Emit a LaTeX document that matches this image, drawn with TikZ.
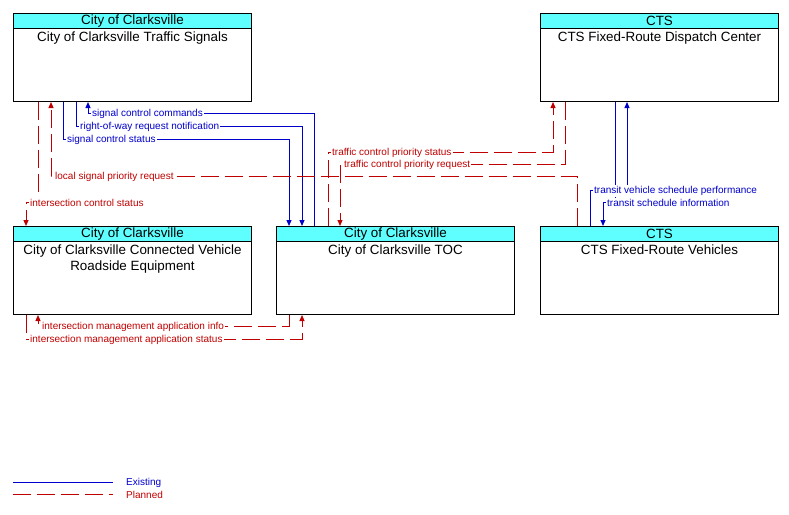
\documentclass[tikz,border=0pt]{standalone}
\usepackage{fontspec}
\setmainfont{Liberation Sans}
\usetikzlibrary{arrows.meta,calc}
\definecolor{exblue}{RGB}{0,0,204}
\definecolor{plred}{RGB}{192,0,0}
\definecolor{hdrcyan}{RGB}{96,255,255}
\tikzset{
  box/.style={draw=black, line width=1pt, fill=white, minimum width=238pt, minimum height=88pt, anchor=north west, inner sep=0pt},
  hdr/.style={draw=black, line width=1pt, fill=hdrcyan, minimum width=238pt, minimum height=15pt, anchor=north west, inner sep=0pt, font=\fontsize{13.4}{15}\selectfont},
  body/.style={anchor=north, inner sep=0pt, align=center, font=\fontsize{13.4}{15.5}\selectfont, yshift=-2.8pt},
  exist/.style={draw=exblue, line width=1pt, -{Triangle[width=5pt,length=6pt]}},
  plan/.style={draw=plred, line width=1pt, dash pattern=on 18pt off 6pt, -{Triangle[width=5pt,length=6pt]}},
  lblb/.style={anchor=west, fill=white, inner sep=1pt, text=exblue, font=\fontsize{10}{12}\selectfont, yshift=-1pt},
  lblr/.style={anchor=west, fill=white, inner sep=1pt, text=plred, font=\fontsize{10}{12}\selectfont, yshift=-1pt},
}
\begin{document}
\begin{tikzpicture}[x=1pt,y=-1pt]
\useasboundingbox (0,0) rectangle (789,514);
% boxes
\node[box] (ts) at (13,13) {};
\node[hdr] (tsh) at (13,13) {City of Clarksville};
\node[body] (tsb) at (tsh.south) {City of Clarksville Traffic Signals};

\node[box] (dc) at (540,13) {};
\node[hdr] (dch) at (540,13) {CTS};
\node[body] (dcb) at (dch.south) {CTS Fixed-Route Dispatch Center};

\node[box] (rse) at (13,226) {};
\node[hdr] (rseh) at (13,226) {City of Clarksville};
\node[body] (rseb) at (rseh.south) {City of Clarksville Connected Vehicle\\Roadside Equipment};

\node[box] (toc) at (276,226) {};
\node[hdr] (toch) at (276,226) {City of Clarksville};
\node[body] (tocb) at (toch.south) {City of Clarksville TOC};

\node[box] (veh) at (540,226) {};
\node[hdr] (vehh) at (540,226) {CTS};
\node[body] (vehb) at (vehh.south) {CTS Fixed-Route Vehicles};

% connectors
\draw[exist] ($(toc.north west)+(38,0)$) |- (88,113) -- ($(ts.south west)+(75,0)$);
\draw[exist] ($(ts.south west)+(63,0)$) |- (302,126) -- ($(toc.north west)+(26,0)$);
\draw[exist] ($(ts.south west)+(50,0)$) |- (289,139) -- ($(toc.north west)+(13,0)$);
\draw[plan] ($(veh.north west)+(37,0)$) |- (51,176) -- ($(ts.south west)+(38,0)$);
\draw[plan] ($(ts.south west)+(25,0)$) |- (26,202) -- ($(rse.north west)+(13,0)$);
\draw[plan] ($(toc.north west)+(52,0)$) |- (553,152) -- ($(dc.south west)+(13,0)$);
\draw[plan] ($(dc.south west)+(25,0)$) |- (340,164) -- ($(toc.north west)+(64,0)$);
\draw[exist] ($(veh.north west)+(50,0)$) |- (627,190) -- ($(dc.south west)+(87,0)$);
\draw[exist] ($(dc.south west)+(75,0)$) |- (603,202) -- ($(veh.north west)+(63,0)$);
\draw[plan] ($(toc.south west)+(13,0)$) |- (38,326) -- ($(rse.south west)+(25,0)$);
\draw[plan] ($(rse.south west)+(13,0)$) |- (302,339) -- ($(toc.south west)+(26,0)$);

% labels
\node[lblb] (l1) at (91,113) {signal control commands};
\node[lblb] (l2) at (79,126) {right-of-way request notification};
\node[lblb] (l3) at (66,139) {signal control status};
\node[lblr] (l4) at (54,176) {local signal priority request};
\node[lblr] (l5) at (29,202) {intersection control status};
\node[lblr] (l6) at (331,152) {traffic control priority status};
\node[lblr] (l7) at (343,164) {traffic control priority request};
\node[lblb] (l8) at (593,190) {transit vehicle schedule performance};
\node[lblb] (l9) at (606,202) {transit schedule information};
\node[lblr] (l10) at (41,326) {intersection management application info};
\node[lblr] (l11) at (29,339) {intersection management application status};

% legend
\coordinate (lg1a) at (13,482);
\coordinate (lg1b) at (113,482);
\coordinate (lg2a) at (13,494);
\coordinate (lg2b) at (113,494);
\draw[draw=exblue, line width=1pt] (lg1a) -- (lg1b);
\draw[draw=plred, line width=1pt, dash pattern=on 18pt off 6pt] (lg2a) -- (lg2b);
\node[lblb, fill=none] (le) at (125,482) {Existing};
\node[lblr, fill=none] (lp) at (125,494) {Planned};
\end{tikzpicture}
\end{document}
